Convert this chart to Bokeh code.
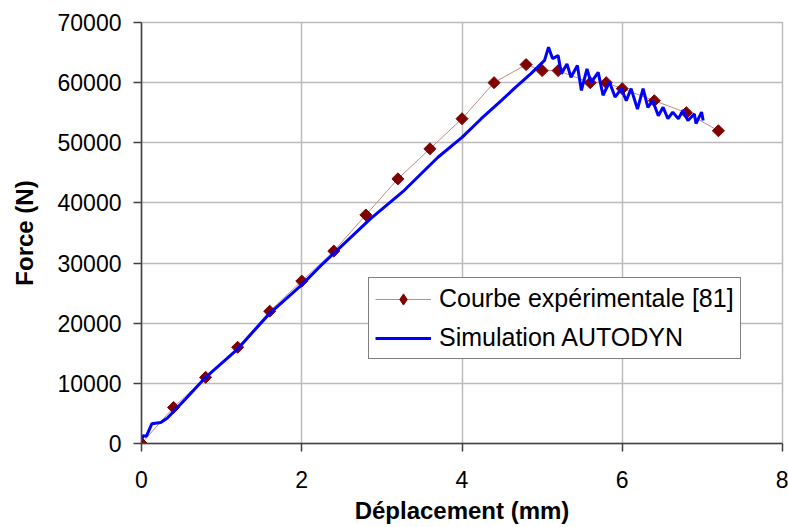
from bokeh.plotting import figure
from bokeh.models import Range1d, Legend, LegendItem, FixedTicker
from bokeh.embed import file_html
from bokeh.resources import INLINE

# Experimental curve
exp_x = [0, 0.4, 0.8, 1.2, 1.6, 2.0, 2.4, 2.8, 3.2, 3.6, 4.0, 4.4, 4.8, 5.0, 5.2, 5.6, 5.8, 6.0, 6.4, 6.8, 7.2]
exp_y = [0, 6000, 11000, 16000, 22000, 27000, 32000, 38000, 44000, 49000, 54000, 60000, 63000, 62000, 62000,
         60000, 60000, 59000, 57000, 55000, 52000]

# AUTODYN simulation
sim_x = [0, 0.02, 0.06, 0.13, 0.24, 0.32, 0.55, 0.8, 1.2, 1.59, 2.01, 2.24, 2.86, 3.28, 3.70, 4.0, 4.24, 4.49,
         4.65, 4.86, 5.03, 5.08, 5.13, 5.2, 5.24, 5.31, 5.36, 5.44, 5.49, 5.56, 5.61, 5.70, 5.76, 5.84, 5.91,
         5.99, 6.05, 6.11, 6.19, 6.26, 6.32, 6.38, 6.45, 6.51, 6.57, 6.63, 6.70, 6.76, 6.82, 6.90, 6.92, 6.99, 7.01]
sim_y = [500, 1300, 1200, 3300, 3500, 4200, 7400, 11000, 15700, 21500, 26500, 29600, 37400, 42100, 47600, 50900,
         54000, 57000, 59000, 61500, 63700, 65900, 64000, 64500, 61500, 63100, 60900, 62850, 58700, 62300, 60000,
         61700, 57900, 60100, 57600, 59000, 57000, 59000, 55600, 59000, 55900, 57000, 54500, 55900, 54000, 55100,
         54000, 55400, 53700, 54800, 53200, 55100, 53700]

x_ticks = [0, 2, 4, 6, 8]
y_ticks = [0, 10000, 20000, 30000, 40000, 50000, 60000, 70000]

FONT = "Liberation Sans"

p = figure(width=788, height=527, output_backend="svg", toolbar_location=None,
           x_range=Range1d(0, 8), y_range=Range1d(0, 70000),
           min_border_left=141, min_border_right=6, min_border_top=22, min_border_bottom=84)
p.background_fill_color = "white"
p.border_fill_color = "white"
p.outline_line_color = "#BBBBBB"
p.outline_line_width = 1.5

for ax in (p.xaxis[0], p.yaxis[0]):
    ax.axis_line_color = "#404040"
    ax.axis_line_width = 1.5
    ax.major_tick_line_color = "#404040"
    ax.major_tick_line_width = 1.5
    ax.major_tick_in = 0
    ax.major_tick_out = 8
    ax.minor_tick_line_color = None
    ax.major_label_text_font = FONT
    ax.major_label_text_font_size = "23px"
    ax.major_label_text_color = "black"
    ax.axis_label_text_font = FONT
    ax.axis_label_text_font_style = "bold"
    ax.axis_label_text_font_size = "24px"
    ax.axis_label_text_color = "black"

p.xaxis.ticker = FixedTicker(ticks=x_ticks)
p.yaxis.ticker = FixedTicker(ticks=y_ticks)
p.xaxis.major_label_standoff = 19
p.yaxis.major_label_standoff = 12
p.xaxis.axis_label = "Déplacement (mm)"
p.yaxis.axis_label = "Force (N)"
p.xaxis.axis_label_standoff = 6
p.yaxis.axis_label_standoff = 17

p.xgrid.ticker = FixedTicker(ticks=x_ticks)
p.ygrid.ticker = FixedTicker(ticks=y_ticks)
p.grid.grid_line_color = "#BBBBBB"
p.grid.grid_line_width = 1.5

exp_line = p.line(exp_x, exp_y, line_color="#C48A8A", line_width=1)
exp_pts = p.scatter(exp_x, exp_y, marker="square", angle=0.785398, size=8.5,
                    fill_color="#800000", line_color="#800000")
sim_line = p.line(sim_x, sim_y, line_color="#0000FF", line_width=3)

# diamond key for the legend, placed on the first experimental point (hidden under its marker)
exp_key = p.scatter(exp_x[:1], exp_y[:1], marker="diamond", size=11,
                    fill_color="#800000", line_color="#800000")

legend = Legend(items=[
    LegendItem(label="Courbe expérimentale [81]", renderers=[exp_line, exp_key]),
    LegendItem(label="Simulation AUTODYN", renderers=[sim_line]),
], location=(227, 84))
legend.label_text_font = FONT
legend.label_text_font_size = "25px"
legend.label_text_color = "black"
legend.border_line_color = "black"
legend.border_line_width = 1
legend.background_fill_color = "white"
legend.background_fill_alpha = 1
legend.padding = 6
legend.margin = 0
legend.spacing = 10
legend.glyph_width = 56
legend.glyph_height = 28
legend.label_height = 28
legend.label_standoff = 8
p.add_layout(legend, "center")

open("out.html", "w").write(file_html(p, INLINE))
